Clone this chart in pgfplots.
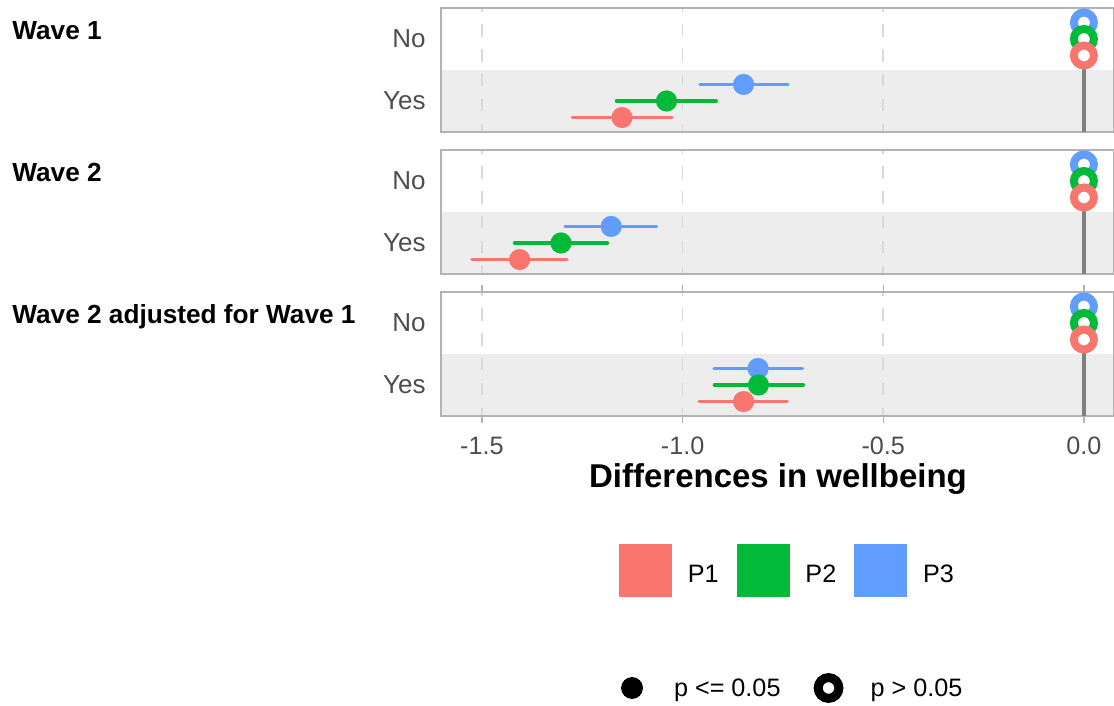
\documentclass[border=0pt]{standalone}
\usepackage{fontspec}
\setmainfont{Liberation Sans}
\usepackage{pgfplots}
\pgfplotsset{compat=1.18}
\definecolor{pone}{HTML}{F8766D}
\definecolor{ptwo}{HTML}{00BA38}
\definecolor{pthree}{HTML}{619CFF}
\definecolor{txtgray}{HTML}{4D4D4D}
\definecolor{bordergray}{HTML}{B3B3B3}
\definecolor{bandgray}{HTML}{EDEDED}
\definecolor{gridgray}{HTML}{D9D9D9}
\definecolor{zerogray}{HTML}{808080}
\newcommand\axfont{\fontsize{12.6}{15}\selectfont}
\newcommand\ylfont{\fontsize{13}{15}\selectfont}
\pgfplotsset{
  panel/.style={
    scale only axis, width=336.5pt, height=62pt,
    xmin=-1.602, xmax=0.075, ymin=0.5, ymax=2.5,
    ytick={1,2}, yticklabels={Yes,No},
    xtick={-1.5,-1,-0.5,0},
    axis line style={bordergray, line width=0.7pt},
    xmajorgrids,
    major grid style={gridgray, line width=0.9pt, dash pattern=on 6.2pt off 6.2pt, dash phase=2pt},
    ytick style={draw=none},
    yticklabel style={font=\ylfont, text=txtgray, inner sep=0pt, xshift=-7.5pt},
    axis background/.style={path picture={\fill[bandgray] (path picture bounding box.south west) rectangle (path picture bounding box.east);}},
  },
  notick/.style={xticklabels={}, xtick style={draw=none}},
  ci/.style={line width=1.6pt, line cap=round, #1},
  sig/.style={only marks, mark=*, mark size=5.25pt, mark options={fill=#1, draw=#1, line width=0.01pt}},
  nsig/.style={only marks, mark=*, mark size=5pt, mark options={fill=white, draw=#1, line width=4pt}},
}
\begin{document}
\begin{tikzpicture}
% ---------------- Panel 1: Wave 1
\begin{axis}[panel, notick, at={(220.5pt,287pt)}, anchor=south west]
\addplot[zerogray, line width=1.6pt] coordinates {(0,0.5) (0,1.7333)};
\addplot[ci=pthree] coordinates {(-0.957,1.2667) (-0.737,1.2667)};
\addplot[ci=ptwo] coordinates {(-1.165,1) (-0.916,1)};
\addplot[ci=pone] coordinates {(-1.275,0.7333) (-1.026,0.7333)};
\addplot[nsig=pthree] coordinates {(0,2.2667)};
\addplot[sig=pthree] coordinates {(-0.848,1.2667)};
\addplot[nsig=ptwo] coordinates {(0,2)};
\addplot[sig=ptwo] coordinates {(-1.040,1)};
\addplot[nsig=pone] coordinates {(0,1.7333)};
\addplot[sig=pone] coordinates {(-1.151,0.7333)};
\end{axis}
% ---------------- Panel 2: Wave 2
\begin{axis}[panel, notick, at={(220.5pt,216pt)}, anchor=south west]
\addplot[zerogray, line width=1.6pt] coordinates {(0,0.5) (0,1.7333)};
\addplot[ci=pthree] coordinates {(-1.293,1.2667) (-1.065,1.2667)};
\addplot[ci=ptwo] coordinates {(-1.419,1) (-1.187,1)};
\addplot[ci=pone] coordinates {(-1.525,0.7333) (-1.288,0.7333)};
\addplot[nsig=pthree] coordinates {(0,2.2667)};
\addplot[sig=pthree] coordinates {(-1.178,1.2667)};
\addplot[nsig=ptwo] coordinates {(0,2)};
\addplot[sig=ptwo] coordinates {(-1.303,1)};
\addplot[nsig=pone] coordinates {(0,1.7333)};
\addplot[sig=pone] coordinates {(-1.406,0.7333)};
\end{axis}
% ---------------- Panel 3: Wave 2 adjusted for Wave 1
\begin{axis}[panel, at={(220.5pt,145pt)}, anchor=south west,
  xticklabels={-1.5,-1.0,-0.5,0.0},
  tick align=outside, major tick length=3.5pt,
  xtick style={bordergray, line width=0.7pt},
  yticklabel style={xshift=3.5pt},
  xticklabel style={font=\axfont, text=txtgray, inner sep=0pt, anchor=north, yshift=-7pt}]
\addplot[zerogray, line width=1.6pt] coordinates {(0,0.5) (0,1.7333)};
\addplot[ci=pthree] coordinates {(-0.922,1.2667) (-0.701,1.2667)};
\addplot[ci=ptwo] coordinates {(-0.921,1) (-0.699,1)};
\addplot[ci=pone] coordinates {(-0.959,0.7333) (-0.739,0.7333)};
\addplot[nsig=pthree] coordinates {(0,2.2667)};
\addplot[sig=pthree] coordinates {(-0.812,1.2667)};
\addplot[nsig=ptwo] coordinates {(0,2)};
\addplot[sig=ptwo] coordinates {(-0.811,1)};
\addplot[nsig=pone] coordinates {(0,1.7333)};
\addplot[sig=pone] coordinates {(-0.848,0.7333)};
\end{axis}
% ---------------- Legend 1 (colours)
\begin{axis}[at={(0pt,0pt)}, anchor=south west, scale only axis, width=557pt, height=353pt,
  hide axis, xmin=0, xmax=1, ymin=0, ymax=1,
  legend style={at={(axis description cs:0.5557,0.1926)}, anchor=west, draw=none, fill=none,
    inner sep=0pt, outer sep=0pt, font=\axfont, legend columns=3, legend cell align=left,
    /tikz/every odd column/.style={column sep=6pt},
    /tikz/every even column/.style={column sep=7pt}}]
\addlegendimage{legend image code/.code={\fill[pone] (0pt,-10.5pt) rectangle (26pt,15.5pt);}}
\addlegendentry{P1}
\addlegendimage{legend image code/.code={\fill[ptwo] (0pt,-10.5pt) rectangle (26pt,15.5pt);}}
\addlegendentry{P2}
\addlegendimage{legend image code/.code={\fill[pthree] (0pt,-10.5pt) rectangle (26pt,15.5pt);}}
\addlegendentry{P3}
\end{axis}
% ---------------- Legend 2 (shapes)
\begin{axis}[at={(0pt,0pt)}, anchor=south west, scale only axis, width=557pt, height=353pt,
  hide axis, xmin=0, xmax=1, ymin=0, ymax=1,
  legend style={at={(axis description cs:0.5521,0.02408)}, anchor=west, draw=none, fill=none,
    inner sep=0pt, outer sep=0pt, font=\axfont, legend columns=2, legend cell align=left,
    /tikz/every odd column/.style={column sep=10.5pt},
    /tikz/every even column/.style={column sep=13.5pt}}]
\addlegendimage{legend image code/.code={\path[draw=none,fill=none] (-8.5pt,-8.5pt) rectangle (8.5pt,8.5pt); \fill[black] (0pt,0.5pt) circle (5.25pt);}}
\addlegendentry{p <= 0.05}
\addlegendimage{legend image code/.code={\path[draw=none,fill=none] (-8.5pt,-8.5pt) rectangle (8.5pt,8.5pt); \draw[black, fill=white, line width=4.5pt] (0pt,0.5pt) circle (5.2pt);}}
\addlegendentry{p > 0.05}
\end{axis}
% ---------------- Strip labels and axis title
\node[anchor=base west, inner sep=0pt, font=\bfseries\fontsize{13.1}{15}\selectfont] at (6pt,333pt) {Wave 1};
\node[anchor=base west, inner sep=0pt, font=\bfseries\fontsize{13.1}{15}\selectfont] at (6pt,262pt) {Wave 2};
\node[anchor=base west, inner sep=0pt, font=\bfseries\fontsize{13.1}{15}\selectfont] at (6pt,191pt) {Wave 2 adjusted for Wave 1};
\node[anchor=base, inner sep=0pt, font=\bfseries\fontsize{16.5}{19}\selectfont] at (389pt,109pt) {Differences in wellbeing};
\pgfresetboundingbox
\path[use as bounding box] (0pt,0pt) rectangle (557pt,353pt);
\end{tikzpicture}
\end{document}
